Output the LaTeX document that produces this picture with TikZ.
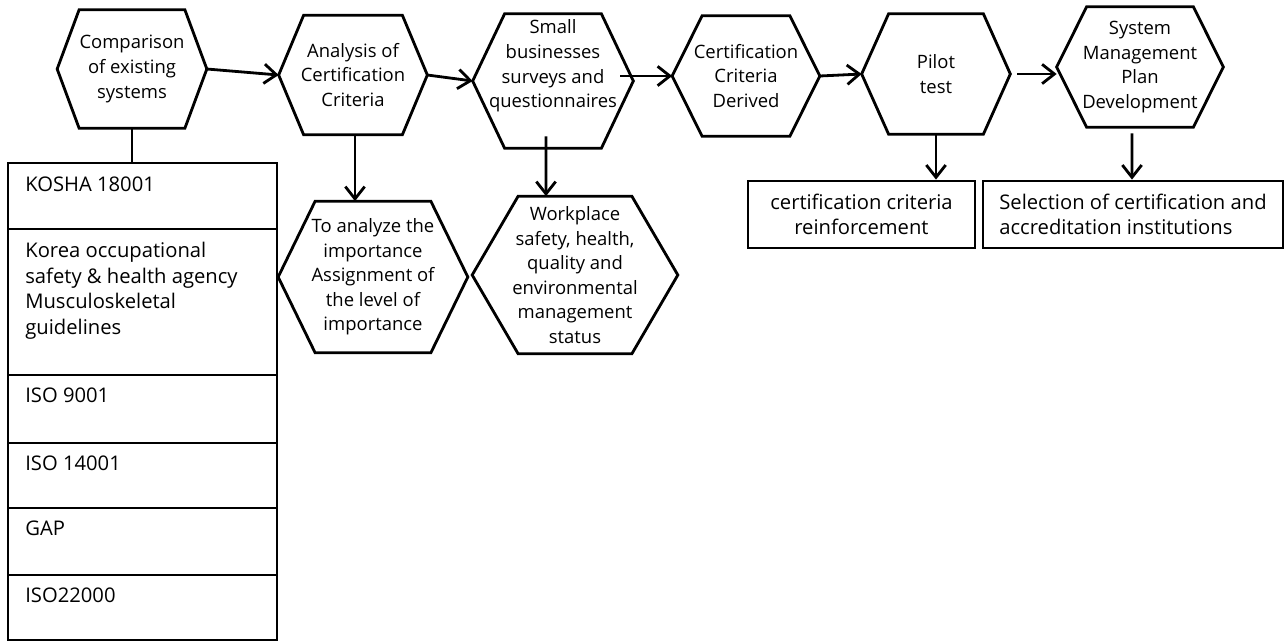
\documentclass[tikz,border=0pt]{standalone}
\usepackage{fontspec}
\setmainfont{Open Sans}
\usetikzlibrary{positioning,arrows.meta}

\begin{document}
\begin{tikzpicture}[x=0.02cm, y=-0.02cm, font=\fontsize{10.5}{14}\selectfont,
  hx/.style={minimum width=#1, inner sep=0pt, align=center},
  hl/.style={line width=1.6pt, line join=miter},
  bx/.style={draw, line width=1.6pt, minimum height=1.34cm, inner sep=0pt, inner xsep=0.3cm, font=\fontsize{11.5}{14.6}\selectfont},
  rw/.style={draw, line width=1.1pt, minimum width=5.38cm, inner sep=0pt, outer sep=0pt},
  rt/.style={anchor=north west, inner xsep=0.34cm, inner ysep=0.26cm, align=left, font=\fontsize{11.5}{14.6}\selectfont},
  ln/.style={line width=1.6pt},
  ar/.style={line width=1.6pt, -{Straight Barb[length=7pt, width=11pt]}}]
  \useasboundingbox (0,0) rectangle (1286,643);

  % top row
  \node[hx=2.98cm, minimum height=2.36cm] (cmp) at (132,69) {Comparison\\of existing\\systems};
  \node[hx=2.96cm, minimum height=2.38cm] (ana) at (353,75) {Analysis of\\Certification\\Criteria};
  \node[hx=3.2cm, minimum height=2.68cm] (sml) at (553,81) {Small\\businesses\\surveys and\\questionnaires\rule[-0.69cm]{0pt}{0.69cm}};
  \node[hx=2.94cm, minimum height=2.4cm] (cer) at (746,76) {Certification\\Criteria\\Derived};
  \node[hx=2.96cm, minimum height=2.4cm] (pil) at (936,74) {Pilot\\test};
  \node[hx=3.32cm, minimum height=2.4cm] (sys) at (1140,67) {System\\Management\\Plan\\Development};

  % second row
  \node[hx=3.78cm, minimum height=3.02cm] (imp) at (373,277) {To analyze the\\importance\\Assignment of\\the level of\\importance};
  \node[hx=4.1cm, minimum height=3.14cm] (wrk) at (575,275) {Workplace\\safety, health,\\quality and\\environmental\\management\\status};
  \node[bx, minimum width=4.54cm, align=center] (rein) at (861.5,214.5) {certification criteria\\reinforcement};
  \node[bx, minimum width=6cm, align=left] (sel) at (1133,214.5) {Selection of certification and\\accreditation institutions};

  \foreach \n/\d in {cmp/0.44cm, ana/0.5cm, sml/0.64cm, cer/0.6cm, pil/0.54cm, sys/0.6cm, imp/0.74cm, wrk/0.92cm}
    \draw[hl] (\n.west) -- ([xshift=\d]\n.north west) -- ([xshift=-\d]\n.north east) -- (\n.east)
      -- ([xshift=-\d]\n.south east) -- ([xshift=\d]\n.south west) -- cycle;

  % table of existing systems
  \node[rw, anchor=north west, minimum height=1.32cm] (t1) at (8,163) {};
  \node[rw, minimum height=2.92cm, below=0pt of t1] (t2) {};
  \node[rw, minimum height=1.36cm, below=0pt of t2] (t3) {};
  \node[rw, minimum height=1.3cm, below=0pt of t3] (t4) {};
  \node[rw, minimum height=1.34cm, below=0pt of t4] (t5) {};
  \node[rw, minimum height=1.3cm, below=0pt of t5] (t6) {};
  \node[rt] (t1x) at (t1.north west) {KOSHA 18001};
  \node[rt] (t2x) at (t2.north west) {Korea occupational\\safety \& health agency\\Musculoskeletal\\guidelines};
  \node[rt] (t3x) at (t3.north west) {ISO 9001};
  \node[rt] (t4x) at (t4.north west) {ISO 14001};
  \node[rt] (t5x) at (t5.north west) {GAP};
  \node[rt] (t6x) at (t6.north west) {ISO22000};

  \draw[ar] (cmp.east) -- (ana.west);
  \draw[ar] (ana.east) -- (sml.west);
  \draw[ar] ([xshift=-0.26cm]cer.west -| sml.east) -- (cer.west);
  \draw[ar] (cer.east) -- (pil.west);
  \draw[ar] ([xshift=0.14cm]pil.east) -- (pil.east -| sys.west);

  \draw[ln] (cmp.south) -- (cmp.south |- t1.north);
  \draw[ar] ([xshift=0.04cm]ana.south) -- ([xshift=0.04cm]ana.south |- imp.north);
  \draw[ar] ([shift={(-7,-12)}]sml.south) -- ([xshift=-0.14cm]sml.south |- wrk.north);
  \draw[ar] (pil.south) -- (pil.south |- rein.north);
  \draw[ar] ([shift={(-8,6)}]sys.south) -- ([xshift=-0.16cm]sys.south |- sel.north);
\end{tikzpicture}
\end{document}
